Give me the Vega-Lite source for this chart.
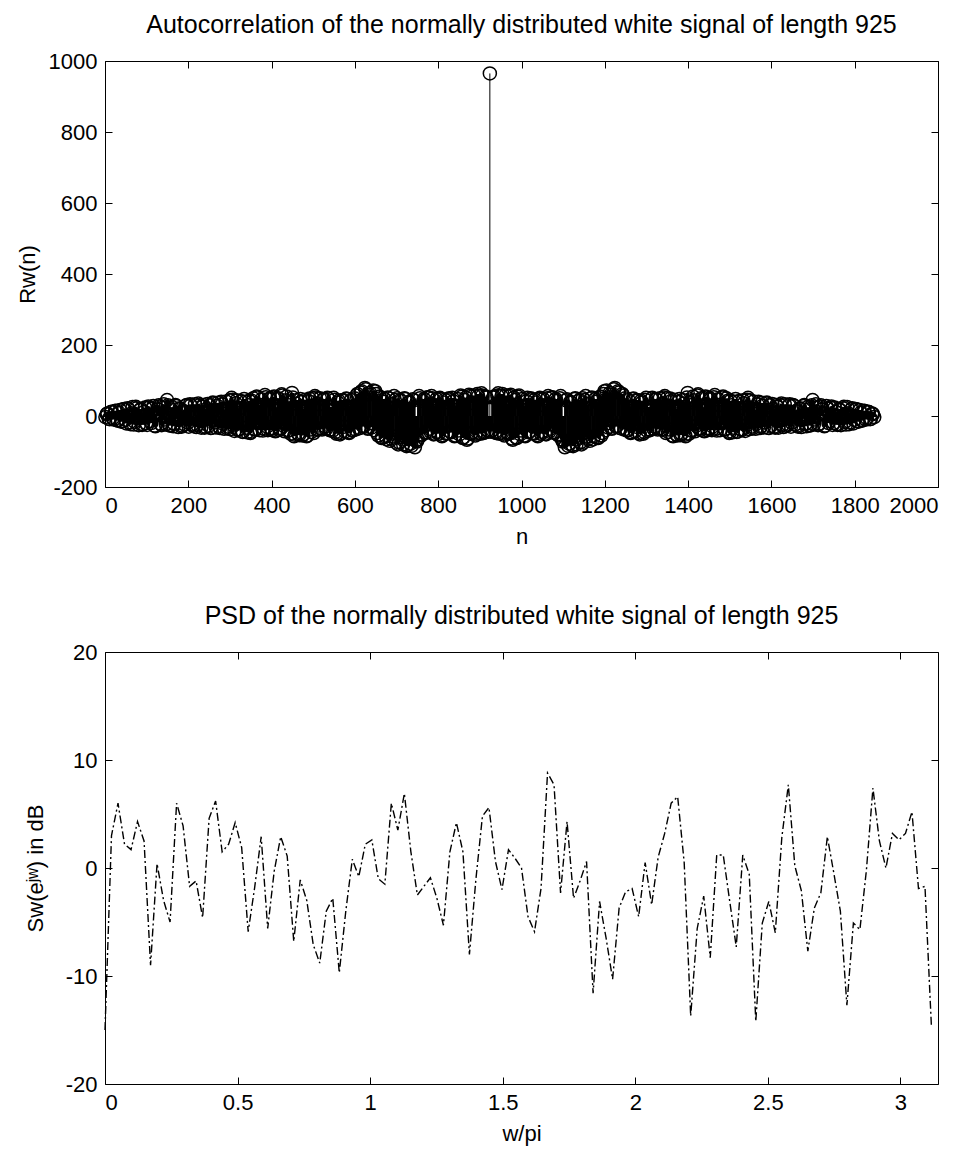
{
"$schema": "https://vega.github.io/schema/vega-lite/v6.json",
"background": "white",
"padding": {"left": 15, "top": 12, "right": 5, "bottom": 5},
"spacing": 55,
"config": {
 "font": "Liberation Sans",
 "view": {"stroke": "black", "strokeWidth": 1},
 "axis": {"grid": false, "domain": false, "ticks": true, "tickColor": "black", "tickSize": -7, "tickWidth": 1, "labelColor": "black", "titleColor": "black", "labelFont": "Liberation Sans", "titleFont": "Liberation Sans", "labelFontSize": 22, "titleFontSize": 22, "titleFontWeight": "normal", "labelPadding": 15, "labelExpr": "'' + datum.value"},
 "title": {"fontSize": 25, "fontWeight": "normal", "font": "Liberation Sans", "color": "black", "offset": 12}
},
"datasets": {
 "acorr": [
{"n":4,"R":5},{"n":9,"R":-8},{"n":14,"R":11},{"n":19,"R":-6},{"n":24,"R":14},{"n":29,"R":-12},{"n":34,"R":9},{"n":39,"R":-16},{"n":44,"R":19},{"n":49,"R":-11},
{"n":54,"R":22},{"n":59,"R":-18},{"n":64,"R":8},{"n":69,"R":-24},{"n":74,"R":26},{"n":79,"R":-7},{"n":84,"R":17},{"n":89,"R":-25},{"n":94,"R":12},{"n":99,"R":-20},
{"n":104,"R":27},{"n":109,"R":-14},{"n":114,"R":21},{"n":119,"R":-27},{"n":124,"R":6},{"n":129,"R":30},{"n":134,"R":-22},{"n":139,"R":24},{"n":144,"R":-10},{"n":149,"R":45},
{"n":154,"R":-26},{"n":159,"R":18},{"n":164,"R":-29},{"n":169,"R":31},{"n":174,"R":-8},{"n":179,"R":22},{"n":184,"R":-30},{"n":189,"R":14},{"n":194,"R":29},{"n":199,"R":-19},
{"n":204,"R":33},{"n":209,"R":-24},{"n":214,"R":12},{"n":219,"R":-31},{"n":224,"R":35},{"n":229,"R":-15},{"n":234,"R":26},{"n":239,"R":-33},{"n":244,"R":20},{"n":249,"R":-28},
{"n":254,"R":-34},{"n":259,"R":38},{"n":264,"R":-18},{"n":269,"R":29},{"n":274,"R":-30},{"n":279,"R":40},{"n":284,"R":-22},{"n":289,"R":15},{"n":294,"R":-35},{"n":299,"R":44},
{"n":304,"R":51},{"n":309,"R":-27},{"n":314,"R":36},{"n":319,"R":-40},{"n":324,"R":22},{"n":329,"R":-44},{"n":334,"R":48},{"n":339,"R":-33},{"n":344,"R":30},{"n":349,"R":-48},
{"n":354,"R":42},{"n":359,"R":-38},{"n":364,"R":55},{"n":369,"R":-20},{"n":374,"R":31},{"n":379,"R":-41},{"n":384,"R":59},{"n":389,"R":-30},{"n":394,"R":47},{"n":399,"R":-36},
{"n":404,"R":52},{"n":409,"R":-43},{"n":414,"R":25},{"n":419,"R":-39},{"n":424,"R":61},{"n":429,"R":-28},{"n":434,"R":44},{"n":439,"R":-42},{"n":444,"R":38},{"n":449,"R":65},
{"n":454,"R":-57},{"n":459,"R":35},{"n":464,"R":-50},{"n":469,"R":48},{"n":474,"R":-55},{"n":479,"R":20},{"n":484,"R":-57},{"n":489,"R":42},{"n":494,"R":-38},{"n":499,"R":50},
{"n":504,"R":56},{"n":509,"R":-39},{"n":514,"R":33},{"n":519,"R":-35},{"n":524,"R":47},{"n":529,"R":-29},{"n":534,"R":51},{"n":539,"R":-40},{"n":544,"R":26},{"n":549,"R":51},
{"n":554,"R":-45},{"n":559,"R":38},{"n":564,"R":-52},{"n":569,"R":44},{"n":574,"R":-30},{"n":579,"R":49},{"n":584,"R":-46},{"n":589,"R":27},{"n":594,"R":-41},{"n":599,"R":50},
{"n":604,"R":58},{"n":609,"R":-35},{"n":614,"R":66},{"n":619,"R":-28},{"n":624,"R":79},{"n":629,"R":-33},{"n":634,"R":60},{"n":639,"R":-20},{"n":644,"R":72},{"n":649,"R":70},
{"n":654,"R":-48},{"n":659,"R":55},{"n":664,"R":-62},{"n":669,"R":40},{"n":674,"R":-58},{"n":679,"R":52},{"n":684,"R":-70},{"n":689,"R":33},{"n":694,"R":56},{"n":699,"R":-75},
{"n":704,"R":-80},{"n":709,"R":45},{"n":714,"R":-66},{"n":719,"R":50},{"n":724,"R":-85},{"n":729,"R":38},{"n":734,"R":-78},{"n":739,"R":47},{"n":744,"R":-88},{"n":749,"R":-72},
{"n":754,"R":56},{"n":759,"R":-55},{"n":764,"R":42},{"n":769,"R":-48},{"n":774,"R":53},{"n":779,"R":-36},{"n":784,"R":56},{"n":789,"R":-52},{"n":794,"R":30},{"n":799,"R":-45},
{"n":804,"R":51},{"n":809,"R":-57},{"n":814,"R":38},{"n":819,"R":-50},{"n":824,"R":47},{"n":829,"R":-44},{"n":834,"R":51},{"n":839,"R":-57},{"n":844,"R":29},{"n":849,"R":-41},
{"n":854,"R":58},{"n":859,"R":-62},{"n":864,"R":45},{"n":869,"R":-67},{"n":874,"R":60},{"n":879,"R":-50},{"n":884,"R":36},{"n":889,"R":-55},{"n":894,"R":62},{"n":899,"R":-47},
{"n":904,"R":64},{"n":909,"R":-48},{"n":914,"R":55},{"n":919,"R":-40},
{"n":924,"R":965},
{"n":929,"R":-40},{"n":934,"R":55},{"n":939,"R":-48},{"n":944,"R":64},
{"n":949,"R":-47},{"n":954,"R":62},{"n":959,"R":-55},{"n":964,"R":36},{"n":969,"R":-50},{"n":974,"R":60},{"n":979,"R":-67},{"n":984,"R":45},{"n":989,"R":-62},{"n":994,"R":58},
{"n":999,"R":-41},{"n":1004,"R":29},{"n":1009,"R":-57},{"n":1014,"R":51},{"n":1019,"R":-44},{"n":1024,"R":47},{"n":1029,"R":-50},{"n":1034,"R":38},{"n":1039,"R":-57},{"n":1044,"R":51},
{"n":1049,"R":-45},{"n":1054,"R":30},{"n":1059,"R":-52},{"n":1064,"R":56},{"n":1069,"R":-36},{"n":1074,"R":53},{"n":1079,"R":-48},{"n":1084,"R":42},{"n":1089,"R":-55},{"n":1094,"R":56},
{"n":1099,"R":-72},{"n":1104,"R":-88},{"n":1109,"R":47},{"n":1114,"R":-78},{"n":1119,"R":38},{"n":1124,"R":-85},{"n":1129,"R":50},{"n":1134,"R":-66},{"n":1139,"R":45},{"n":1144,"R":-80},
{"n":1149,"R":-75},{"n":1154,"R":56},{"n":1159,"R":33},{"n":1164,"R":-70},{"n":1169,"R":52},{"n":1174,"R":-58},{"n":1179,"R":40},{"n":1184,"R":-62},{"n":1189,"R":55},{"n":1194,"R":-48},
{"n":1199,"R":70},{"n":1204,"R":72},{"n":1209,"R":-20},{"n":1214,"R":60},{"n":1219,"R":-33},{"n":1224,"R":79},{"n":1229,"R":-28},{"n":1234,"R":66},{"n":1239,"R":-35},{"n":1244,"R":58},
{"n":1249,"R":50},{"n":1254,"R":-41},{"n":1259,"R":27},{"n":1264,"R":-46},{"n":1269,"R":49},{"n":1274,"R":-30},{"n":1279,"R":44},{"n":1284,"R":-52},{"n":1289,"R":38},{"n":1294,"R":-45},
{"n":1299,"R":51},{"n":1304,"R":26},{"n":1309,"R":-40},{"n":1314,"R":51},{"n":1319,"R":-29},{"n":1324,"R":47},{"n":1329,"R":-35},{"n":1334,"R":33},{"n":1339,"R":-39},{"n":1344,"R":56},
{"n":1349,"R":50},{"n":1354,"R":-38},{"n":1359,"R":42},{"n":1364,"R":-57},{"n":1369,"R":20},{"n":1374,"R":-55},{"n":1379,"R":48},{"n":1384,"R":-50},{"n":1389,"R":35},{"n":1394,"R":-57},
{"n":1399,"R":65},{"n":1404,"R":38},{"n":1409,"R":-42},{"n":1414,"R":44},{"n":1419,"R":-28},{"n":1424,"R":61},{"n":1429,"R":-39},{"n":1434,"R":25},{"n":1439,"R":-43},{"n":1444,"R":52},
{"n":1449,"R":-36},{"n":1454,"R":47},{"n":1459,"R":-30},{"n":1464,"R":59},{"n":1469,"R":-41},{"n":1474,"R":31},{"n":1479,"R":-20},{"n":1484,"R":55},{"n":1489,"R":-38},{"n":1494,"R":42},
{"n":1499,"R":-48},{"n":1504,"R":30},{"n":1509,"R":-33},{"n":1514,"R":48},{"n":1519,"R":-44},{"n":1524,"R":22},{"n":1529,"R":-40},{"n":1534,"R":36},{"n":1539,"R":-27},{"n":1544,"R":51},
{"n":1549,"R":44},{"n":1554,"R":-35},{"n":1559,"R":15},{"n":1564,"R":-22},{"n":1569,"R":40},{"n":1574,"R":-30},{"n":1579,"R":29},{"n":1584,"R":-18},{"n":1589,"R":38},{"n":1594,"R":-34},
{"n":1599,"R":-28},{"n":1604,"R":20},{"n":1609,"R":-33},{"n":1614,"R":26},{"n":1619,"R":-15},{"n":1624,"R":35},{"n":1629,"R":-31},{"n":1634,"R":12},{"n":1639,"R":-24},{"n":1644,"R":33},
{"n":1649,"R":-19},{"n":1654,"R":29},{"n":1659,"R":14},{"n":1664,"R":-30},{"n":1669,"R":22},{"n":1674,"R":-8},{"n":1679,"R":31},{"n":1684,"R":-29},{"n":1689,"R":18},{"n":1694,"R":-26},
{"n":1699,"R":45},{"n":1704,"R":-10},{"n":1709,"R":24},{"n":1714,"R":-22},{"n":1719,"R":30},{"n":1724,"R":6},{"n":1729,"R":-27},{"n":1734,"R":21},{"n":1739,"R":-14},{"n":1744,"R":27},
{"n":1749,"R":-20},{"n":1754,"R":12},{"n":1759,"R":-25},{"n":1764,"R":17},{"n":1769,"R":-7},{"n":1774,"R":26},{"n":1779,"R":-24},{"n":1784,"R":8},{"n":1789,"R":-18},{"n":1794,"R":22},
{"n":1799,"R":-11},{"n":1804,"R":19},{"n":1809,"R":-16},{"n":1814,"R":9},{"n":1819,"R":-12},{"n":1824,"R":14},{"n":1829,"R":-6},{"n":1834,"R":11},{"n":1839,"R":-8},{"n":1844,"R":5},
{"n":1,"R":-3},{"n":6,"R":7},{"n":11,"R":-9},{"n":16,"R":12},{"n":21,"R":-10},{"n":26,"R":15},{"n":31,"R":-13},{"n":36,"R":17},{"n":41,"R":-15},{"n":46,"R":20},
{"n":51,"R":-21},{"n":56,"R":19},{"n":61,"R":-23},{"n":66,"R":25},{"n":71,"R":-16},{"n":76,"R":22},{"n":81,"R":-26},{"n":86,"R":20},{"n":91,"R":-23},{"n":96,"R":24},
{"n":101,"R":-25},{"n":106,"R":24},{"n":111,"R":-20},{"n":116,"R":28},{"n":121,"R":-29},{"n":126,"R":19},{"n":131,"R":27},{"n":136,"R":-26},{"n":141,"R":33},{"n":146,"R":-24},
{"n":151,"R":30},{"n":156,"R":-27},{"n":161,"R":25},{"n":166,"R":-22},{"n":171,"R":28},{"n":176,"R":-31},{"n":181,"R":20},{"n":186,"R":-27},{"n":191,"R":-24},{"n":196,"R":31},
{"n":201,"R":-30},{"n":206,"R":30},{"n":211,"R":-28},{"n":216,"R":33},{"n":221,"R":-25},{"n":226,"R":30},{"n":231,"R":-33},{"n":236,"R":31},{"n":241,"R":-30},{"n":246,"R":34},
{"n":251,"R":30},{"n":256,"R":-33},{"n":261,"R":36},{"n":266,"R":-32},{"n":271,"R":37},{"n":276,"R":-34},{"n":281,"R":33},{"n":286,"R":-36},{"n":291,"R":41},{"n":296,"R":-30},
{"n":301,"R":-37},{"n":306,"R":46},{"n":311,"R":-42},{"n":316,"R":44},{"n":321,"R":-38},{"n":326,"R":42},{"n":331,"R":-45},{"n":336,"R":40},{"n":341,"R":-46},{"n":346,"R":43},
{"n":351,"R":-44},{"n":356,"R":50},{"n":361,"R":-38},{"n":366,"R":52},{"n":371,"R":-40},{"n":376,"R":47},{"n":381,"R":-36},{"n":386,"R":53},{"n":391,"R":-40},{"n":396,"R":50},
{"n":401,"R":-40},{"n":406,"R":55},{"n":411,"R":-41},{"n":416,"R":50},{"n":421,"R":-36},{"n":426,"R":58},{"n":431,"R":-43},{"n":436,"R":55},{"n":441,"R":-40},{"n":446,"R":-50},
{"n":451,"R":52},{"n":456,"R":-53},{"n":461,"R":45},{"n":466,"R":-54},{"n":471,"R":40},{"n":476,"R":-52},{"n":481,"R":46},{"n":486,"R":-55},{"n":491,"R":49},{"n":496,"R":-45},
{"n":501,"R":-48},{"n":506,"R":52},{"n":511,"R":-37},{"n":516,"R":50},{"n":521,"R":-38},{"n":526,"R":48},{"n":531,"R":-36},{"n":536,"R":49},{"n":541,"R":-38},{"n":546,"R":-42},
{"n":551,"R":46},{"n":556,"R":-50},{"n":561,"R":43},{"n":566,"R":-48},{"n":571,"R":45},{"n":576,"R":-44},{"n":581,"R":48},{"n":586,"R":-48},{"n":591,"R":45},{"n":596,"R":-40},
{"n":601,"R":-38},{"n":606,"R":62},{"n":611,"R":-34},{"n":616,"R":70},{"n":621,"R":-30},{"n":626,"R":75},{"n":631,"R":-36},{"n":636,"R":65},{"n":641,"R":-32},{"n":646,"R":-40},
{"n":651,"R":62},{"n":656,"R":-55},{"n":661,"R":50},{"n":666,"R":-60},{"n":671,"R":48},{"n":676,"R":-66},{"n":681,"R":50},{"n":686,"R":-64},{"n":691,"R":-58},{"n":696,"R":45},
{"n":701,"R":50},{"n":706,"R":-74},{"n":711,"R":42},{"n":716,"R":-80},{"n":721,"R":48},{"n":726,"R":-82},{"n":731,"R":40},{"n":736,"R":-84},{"n":741,"R":44},{"n":746,"R":-70},
{"n":751,"R":-66},{"n":756,"R":50},{"n":761,"R":-52},{"n":766,"R":48},{"n":771,"R":-45},{"n":776,"R":52},{"n":781,"R":-44},{"n":786,"R":50},{"n":791,"R":-50},{"n":796,"R":48},
{"n":801,"R":-50},{"n":806,"R":48},{"n":811,"R":-54},{"n":816,"R":46},{"n":821,"R":-48},{"n":826,"R":50},{"n":831,"R":-46},{"n":836,"R":42},{"n":841,"R":-55},{"n":846,"R":48},
{"n":851,"R":-52},{"n":856,"R":54},{"n":861,"R":-60},{"n":866,"R":52},{"n":871,"R":-63},{"n":876,"R":56},{"n":881,"R":-48},{"n":886,"R":58},{"n":891,"R":-50},{"n":896,"R":56},
{"n":901,"R":-50},{"n":906,"R":58},{"n":911,"R":-45},{"n":916,"R":52},{"n":921,"R":-44},
{"n":927,"R":-44},{"n":932,"R":52},{"n":937,"R":-45},{"n":942,"R":58},{"n":947,"R":-50},
{"n":952,"R":56},{"n":957,"R":-50},{"n":962,"R":58},{"n":967,"R":-48},{"n":972,"R":56},{"n":977,"R":-63},{"n":982,"R":52},{"n":987,"R":-60},{"n":992,"R":54},{"n":997,"R":-52},
{"n":1002,"R":48},{"n":1007,"R":-55},{"n":1012,"R":42},{"n":1017,"R":-46},{"n":1022,"R":50},{"n":1027,"R":-48},{"n":1032,"R":46},{"n":1037,"R":-54},{"n":1042,"R":48},{"n":1047,"R":-50},
{"n":1052,"R":48},{"n":1057,"R":-50},{"n":1062,"R":50},{"n":1067,"R":-44},{"n":1072,"R":52},{"n":1077,"R":-45},{"n":1082,"R":48},{"n":1087,"R":-52},{"n":1092,"R":50},{"n":1097,"R":-66},
{"n":1102,"R":-70},{"n":1107,"R":44},{"n":1112,"R":-84},{"n":1117,"R":40},{"n":1122,"R":-82},{"n":1127,"R":48},{"n":1132,"R":-80},{"n":1137,"R":42},{"n":1142,"R":-74},{"n":1147,"R":50},
{"n":1152,"R":45},{"n":1157,"R":-58},{"n":1162,"R":-64},{"n":1167,"R":50},{"n":1172,"R":-66},{"n":1177,"R":48},{"n":1182,"R":-60},{"n":1187,"R":50},{"n":1192,"R":-55},{"n":1197,"R":62},
{"n":1202,"R":-40},{"n":1207,"R":-32},{"n":1212,"R":65},{"n":1217,"R":-36},{"n":1222,"R":75},{"n":1227,"R":-30},{"n":1232,"R":70},{"n":1237,"R":-34},{"n":1242,"R":62},{"n":1247,"R":-38},
{"n":1252,"R":-40},{"n":1257,"R":45},{"n":1262,"R":-48},{"n":1267,"R":48},{"n":1272,"R":-44},{"n":1277,"R":45},{"n":1282,"R":-48},{"n":1287,"R":43},{"n":1292,"R":-50},{"n":1297,"R":46},
{"n":1302,"R":-42},{"n":1307,"R":-38},{"n":1312,"R":49},{"n":1317,"R":-36},{"n":1322,"R":48},{"n":1327,"R":-38},{"n":1332,"R":50},{"n":1337,"R":-37},{"n":1342,"R":52},{"n":1347,"R":-48},
{"n":1352,"R":-45},{"n":1357,"R":49},{"n":1362,"R":-55},{"n":1367,"R":46},{"n":1372,"R":-52},{"n":1377,"R":40},{"n":1382,"R":-54},{"n":1387,"R":45},{"n":1392,"R":-53},{"n":1397,"R":52},
{"n":1402,"R":-50},{"n":1407,"R":-40},{"n":1412,"R":55},{"n":1417,"R":-43},{"n":1422,"R":58},{"n":1427,"R":-36},{"n":1432,"R":50},{"n":1437,"R":-41},{"n":1442,"R":55},{"n":1447,"R":-40},
{"n":1452,"R":50},{"n":1457,"R":-40},{"n":1462,"R":53},{"n":1467,"R":-36},{"n":1472,"R":47},{"n":1477,"R":-40},{"n":1482,"R":52},{"n":1487,"R":-38},{"n":1492,"R":50},{"n":1497,"R":-44},
{"n":1502,"R":43},{"n":1507,"R":-46},{"n":1512,"R":40},{"n":1517,"R":-45},{"n":1522,"R":42},{"n":1527,"R":-38},{"n":1532,"R":44},{"n":1537,"R":-42},{"n":1542,"R":46},{"n":1547,"R":-37},
{"n":1552,"R":-30},{"n":1557,"R":41},{"n":1562,"R":-36},{"n":1567,"R":33},{"n":1572,"R":-34},{"n":1577,"R":37},{"n":1582,"R":-32},{"n":1587,"R":36},{"n":1592,"R":-33},{"n":1597,"R":30},
{"n":1602,"R":34},{"n":1607,"R":-30},{"n":1612,"R":31},{"n":1617,"R":-33},{"n":1622,"R":30},{"n":1627,"R":-25},{"n":1632,"R":33},{"n":1637,"R":-28},{"n":1642,"R":30},{"n":1647,"R":-30},
{"n":1652,"R":31},{"n":1657,"R":-24},{"n":1662,"R":-27},{"n":1667,"R":20},{"n":1672,"R":-31},{"n":1677,"R":28},{"n":1682,"R":-22},{"n":1687,"R":25},{"n":1692,"R":-27},{"n":1697,"R":30},
{"n":1702,"R":-24},{"n":1707,"R":33},{"n":1712,"R":-26},{"n":1717,"R":27},{"n":1722,"R":19},{"n":1727,"R":-29},{"n":1732,"R":28},{"n":1737,"R":-20},{"n":1742,"R":24},{"n":1747,"R":-25},
{"n":1752,"R":24},{"n":1757,"R":-23},{"n":1762,"R":20},{"n":1767,"R":-26},{"n":1772,"R":22},{"n":1777,"R":-16},{"n":1782,"R":25},{"n":1787,"R":-23},{"n":1792,"R":19},{"n":1797,"R":-21},
{"n":1802,"R":20},{"n":1807,"R":-15},{"n":1812,"R":17},{"n":1817,"R":-13},{"n":1822,"R":15},{"n":1827,"R":-10},{"n":1832,"R":12},{"n":1837,"R":-9},{"n":1842,"R":7},{"n":1847,"R":-3}
 ],
 "psd": [
{"w":0,"S":-15},{"w":0.0245,"S":3.0},{"w":0.0491,"S":6.0},{"w":0.0736,"S":2.2},{"w":0.0982,"S":1.7},{"w":0.1227,"S":4.3},{"w":0.1473,"S":2.5},{"w":0.1718,"S":-9.0},{"w":0.1963,"S":0.4},{"w":0.2209,"S":-3.0},
{"w":0.2454,"S":-5.0},{"w":0.2700,"S":6.0},{"w":0.2945,"S":3.9},{"w":0.3191,"S":-1.7},{"w":0.3436,"S":-1.2},{"w":0.3682,"S":-4.6},{"w":0.3927,"S":4.6},{"w":0.4172,"S":6.2},{"w":0.4418,"S":1.5},{"w":0.4663,"S":2.2},
{"w":0.4909,"S":4.2},{"w":0.5154,"S":1.9},{"w":0.5400,"S":-5.9},{"w":0.5645,"S":-1.8},{"w":0.5890,"S":2.9},{"w":0.6136,"S":-5.6},{"w":0.6381,"S":-0.3},{"w":0.6627,"S":2.9},{"w":0.6872,"S":1.1},{"w":0.7118,"S":-6.8},
{"w":0.7363,"S":-1.1},{"w":0.7609,"S":-3.0},{"w":0.7854,"S":-7.1},{"w":0.8099,"S":-8.8},{"w":0.8345,"S":-4.0},{"w":0.8590,"S":-2.8},{"w":0.8836,"S":-9.7},{"w":0.9081,"S":-4.0},{"w":0.9327,"S":0.8},{"w":0.9572,"S":-0.8},
{"w":0.9817,"S":2.2},{"w":1.0063,"S":2.6},{"w":1.0308,"S":-1.0},{"w":1.0554,"S":-1.5},{"w":1.0799,"S":6.0},{"w":1.1045,"S":3.5},{"w":1.1290,"S":6.9},{"w":1.1536,"S":1.5},{"w":1.1781,"S":-2.5},{"w":1.2026,"S":-1.7},
{"w":1.2272,"S":-0.9},{"w":1.2517,"S":-2.8},{"w":1.2763,"S":-5.3},{"w":1.3008,"S":1.5},{"w":1.3254,"S":4.2},{"w":1.3499,"S":1.5},{"w":1.3744,"S":-8.0},{"w":1.3990,"S":-1.0},{"w":1.4235,"S":4.8},{"w":1.4481,"S":5.6},
{"w":1.4726,"S":0.6},{"w":1.4972,"S":-2.0},{"w":1.5217,"S":1.7},{"w":1.5463,"S":0.9},{"w":1.5708,"S":0.0},{"w":1.5953,"S":-4.5},{"w":1.6199,"S":-5.9},{"w":1.6444,"S":-1.9},{"w":1.6690,"S":8.8},{"w":1.6935,"S":7.7},
{"w":1.7181,"S":-2.3},{"w":1.7426,"S":4.3},{"w":1.7671,"S":-2.8},{"w":1.7917,"S":-1.2},{"w":1.8162,"S":0.6},{"w":1.8408,"S":-11.6},{"w":1.8653,"S":-3.1},{"w":1.8899,"S":-6.5},{"w":1.9144,"S":-10.3},{"w":1.9390,"S":-3.7},
{"w":1.9635,"S":-2.2},{"w":1.9880,"S":-1.9},{"w":2.0126,"S":-4.5},{"w":2.0371,"S":0.5},{"w":2.0617,"S":-3.4},{"w":2.0862,"S":1.0},{"w":2.1108,"S":3.2},{"w":2.1353,"S":6.0},{"w":2.1598,"S":6.6},{"w":2.1844,"S":0.5},
{"w":2.2089,"S":-13.7},{"w":2.2335,"S":-5.6},{"w":2.2580,"S":-2.6},{"w":2.2826,"S":-8.3},{"w":2.3071,"S":1.2},{"w":2.3317,"S":1.2},{"w":2.3562,"S":-3.1},{"w":2.3807,"S":-7.3},{"w":2.4053,"S":1.2},{"w":2.4298,"S":-0.6},
{"w":2.4544,"S":-14.2},{"w":2.4789,"S":-5.1},{"w":2.5035,"S":-3.1},{"w":2.5280,"S":-6.0},{"w":2.5525,"S":2.8},{"w":2.5771,"S":7.7},{"w":2.6016,"S":0.2},{"w":2.6262,"S":-2.1},{"w":2.6507,"S":-7.7},{"w":2.6753,"S":-3.7},
{"w":2.6998,"S":-2.3},{"w":2.7243,"S":2.9},{"w":2.7489,"S":-0.5},{"w":2.7734,"S":-4.0},{"w":2.7980,"S":-12.7},{"w":2.8225,"S":-5.1},{"w":2.8471,"S":-5.7},{"w":2.8716,"S":-0.2},{"w":2.8962,"S":7.4},{"w":2.9207,"S":2.5},
{"w":2.9452,"S":0.0},{"w":2.9698,"S":3.2},{"w":2.9943,"S":2.6},{"w":3.0189,"S":3.2},{"w":3.0434,"S":5.2},{"w":3.0680,"S":-1.9},{"w":3.0925,"S":-1.7},{"w":3.1170,"S":-14.8}
 ]
},
"vconcat": [
 {
  "width": 833, "height": 426,
  "title": {"text": "Autocorrelation of the normally distributed white signal of length 925"},
  "data": {"name": "acorr"},
  "layer": [
   {"transform": [{"filter": "datum.R < 500"}],
    "mark": {"type": "rule", "color": "black", "strokeWidth": 4},
    "encoding": {
     "x": {"field": "n", "type": "quantitative", "scale": {"domain": [0, 2000], "nice": false, "zero": false},
           "axis": {"orient": "bottom", "values": [0,200,400,600,800,1000,1200,1400,1600,1800,2000], "title": "n", "titlePadding": 10}},
     "y": {"field": "R", "type": "quantitative", "scale": {"domain": [-200, 1000], "nice": false, "zero": false},
           "axis": {"orient": "left", "values": [-200,0,200,400,600,800,1000], "title": "Rw(n)", "titlePadding": 10, "minExtent": 56, "maxExtent": 56}},
     "y2": {"datum": 0}
    }},
   {"transform": [{"filter": "datum.R >= 500"}],
    "mark": {"type": "rule", "color": "black", "strokeWidth": 1},
    "encoding": {
     "x": {"field": "n", "type": "quantitative", "scale": {"domain": [0, 2000], "nice": false, "zero": false}, "axis": null},
     "y": {"field": "R", "type": "quantitative", "scale": {"domain": [-200, 1000], "nice": false, "zero": false}, "axis": null},
     "y2": {"datum": 0}
    }},
   {"mark": {"type": "point", "shape": "circle", "filled": false, "color": "black", "size": 170, "strokeWidth": 1.5, "opacity": 1},
    "encoding": {
     "x": {"field": "n", "type": "quantitative", "scale": {"domain": [0, 2000], "nice": false, "zero": false},
           "axis": {"orient": "top", "labels": false, "title": null, "values": [0,200,400,600,800,1000,1200,1400,1600,1800,2000]}},
     "y": {"field": "R", "type": "quantitative", "scale": {"domain": [-200, 1000], "nice": false, "zero": false},
           "axis": {"orient": "right", "labels": false, "title": null, "values": [-200,0,200,400,600,800,1000]}}
    }}
  ],
  "resolve": {"axis": {"x": "independent", "y": "independent"}}
 },
 {
  "width": 833, "height": 432,
  "title": {"text": "PSD of the normally distributed white signal of length 925"},
  "data": {"name": "psd"},
  "layer": [
   {"mark": {"type": "line", "color": "black", "strokeWidth": 1.4, "strokeDash": [8, 3, 2, 3]},
    "encoding": {
     "x": {"field": "w", "type": "quantitative", "scale": {"domain": [0, 3.1416], "nice": false, "zero": false},
           "axis": {"orient": "bottom", "values": [0,0.5,1,1.5,2,2.5,3], "title": "w/pi", "titlePadding": 10}},
     "y": {"field": "S", "type": "quantitative", "scale": {"domain": [-20, 20], "nice": false, "zero": false},
           "axis": {"orient": "left", "values": [-20,-10,0,10,20], "title": "Sw(eʲʷ) in dB", "titlePadding": 2, "minExtent": 56, "maxExtent": 56}}
    }},
   {"mark": {"type": "line", "color": "black", "strokeOpacity": 0},
    "encoding": {
     "x": {"field": "w", "type": "quantitative", "scale": {"domain": [0, 3.1416], "nice": false, "zero": false},
           "axis": {"orient": "top", "labels": false, "title": null, "values": [0,0.5,1,1.5,2,2.5,3]}},
     "y": {"field": "S", "type": "quantitative", "scale": {"domain": [-20, 20], "nice": false, "zero": false},
           "axis": {"orient": "right", "labels": false, "title": null, "values": [-20,-10,0,10,20]}}
    }}
  ],
  "resolve": {"axis": {"x": "independent", "y": "independent"}}
 }
]
}
